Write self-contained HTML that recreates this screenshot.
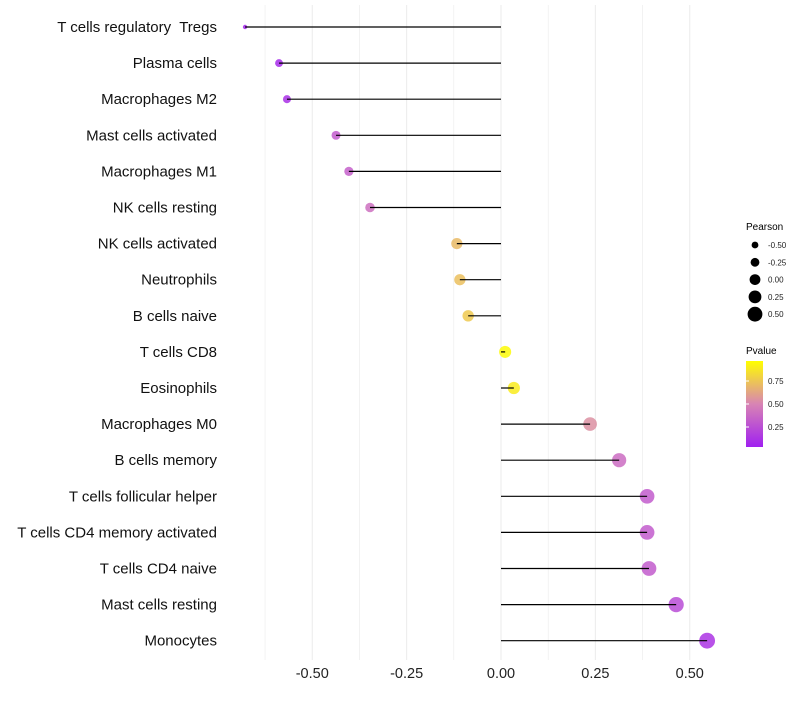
<!DOCTYPE html>
<html><head><meta charset="utf-8"><style>
body{margin:0;background:#fff;font-family:"Liberation Sans",sans-serif}
svg text{font-family:"Liberation Sans",sans-serif;white-space:pre}
</style></head><body>
<svg id="c" width="800" height="700" xmlns="http://www.w3.org/2000/svg">
<defs><linearGradient id="pg" x1="0" y1="1" x2="0" y2="0">
<stop offset="0" stop-color="#A020F0"/><stop offset="0.5" stop-color="#D884B4"/><stop offset="1" stop-color="#FFFF00"/></linearGradient></defs>
<g id="grid"></g><g id="points"></g><g id="stems"></g><g id="labels"></g>
<g>
<text x="746" y="230" font-size="10">Pearson</text>
<g id="sizeleg"></g>
<text x="746" y="354" font-size="10">Pvalue</text>
<rect x="746" y="361" width="17" height="86" fill="url(#pg)"/>
<g id="colleg"></g>
</g>
</svg>
<script>
const categories=["T cells regulatory  Tregs","Plasma cells","Macrophages M2","Mast cells activated","Macrophages M1","NK cells resting","NK cells activated","Neutrophils","B cells naive","T cells CD8","Eosinophils","Macrophages M0","B cells memory","T cells follicular helper","T cells CD4 memory activated","T cells CD4 naive","Mast cells resting","Monocytes"];
const pearson=[-0.678,-0.588,-0.567,-0.437,-0.403,-0.347,-0.117,-0.109,-0.087,0.011,0.034,0.236,0.313,0.387,0.387,0.392,0.464,0.546];
const pvalue=[0.03,0.05,0.08,0.3,0.32,0.4,0.72,0.74,0.78,0.98,0.92,0.55,0.38,0.3,0.3,0.3,0.22,0.1];
const xTicks=[-0.5,-0.25,0,0.25,0.5];
const xTickLabels=["-0.50","-0.25","0.00","0.25","0.50"];
const sizeLegVals=[-0.5,-0.25,0,0.25,0.5];
const sizeLegLabels=["-0.50","-0.25","0.00","0.25","0.50"];
const colLegVals=[0.75,0.5,0.25];
const colLegLabels=["0.75","0.50","0.25"];
const NS="http://www.w3.org/2000/svg";
const x=v=>501+v*377.5;
const y=i=>27+i*36.1;
const r=v=>v<-0.65?2.2:Math.max(2.2,6+3.5*v);
function lerp(a,b,t){return a.map((c,i)=>Math.round(c+(b[i]-c)*t));}
function col(p){const s=[[160,32,240],[216,132,180],[255,255,0]];let c=p<0.5?lerp(s[0],s[1],p/0.5):lerp(s[1],s[2],(p-0.5)/0.5);return `rgb(${c})`;}
function mk(tag,at,parent){const e=document.createElementNS(NS,tag);for(const k in at)e.setAttribute(k,at[k]);document.getElementById(parent).appendChild(e);return e;}
for(let k=-5;k<=4;k++){const v=k*0.125;const g=mk('line',{x1:x(v),x2:x(v),y1:5,y2:660,stroke:'#ebebeb','stroke-width':k%2===0?1:0.6},'grid');

}
xTicks.forEach((v,i)=>{const t=mk('text',{x:x(v),y:678,'font-size':14.5,'text-anchor':'middle',fill:'#222'},'labels');t.textContent=xTickLabels[i];

});
categories.forEach((c,i)=>{
const t=mk('text',{x:217,y:y(i)+5,'font-size':15,'text-anchor':'end',fill:'#111'},'labels');t.textContent=c;


const p=mk('circle',{cx:x(pearson[i]),cy:y(i),r:r(pearson[i]),fill:col(pvalue[i]),'fill-opacity':0.85},'points');


const l=mk('line',{x1:x(0),x2:x(pearson[i]),y1:y(i),y2:y(i),stroke:'#000','stroke-width':1.2},'stems');


});
sizeLegVals.forEach((v,i)=>{const cy=245+i*17.3;
const c=mk('circle',{cx:755,cy:cy,r:3.4+4*(v+0.5),fill:'#000'},'sizeleg');


const t=mk('text',{x:768,y:cy+3,'font-size':8,fill:'#222'},'sizeleg');t.textContent=sizeLegLabels[i];

});
colLegVals.forEach((v,i)=>{const cy=450-v*92;
const t=mk('text',{x:768,y:cy+3,'font-size':8,fill:'#222'},'colleg');t.textContent=colLegLabels[i];


const k=mk('line',{x1:746,x2:749,y1:cy,y2:cy,stroke:'#fff'},'colleg');

});
</script>
</body></html>
